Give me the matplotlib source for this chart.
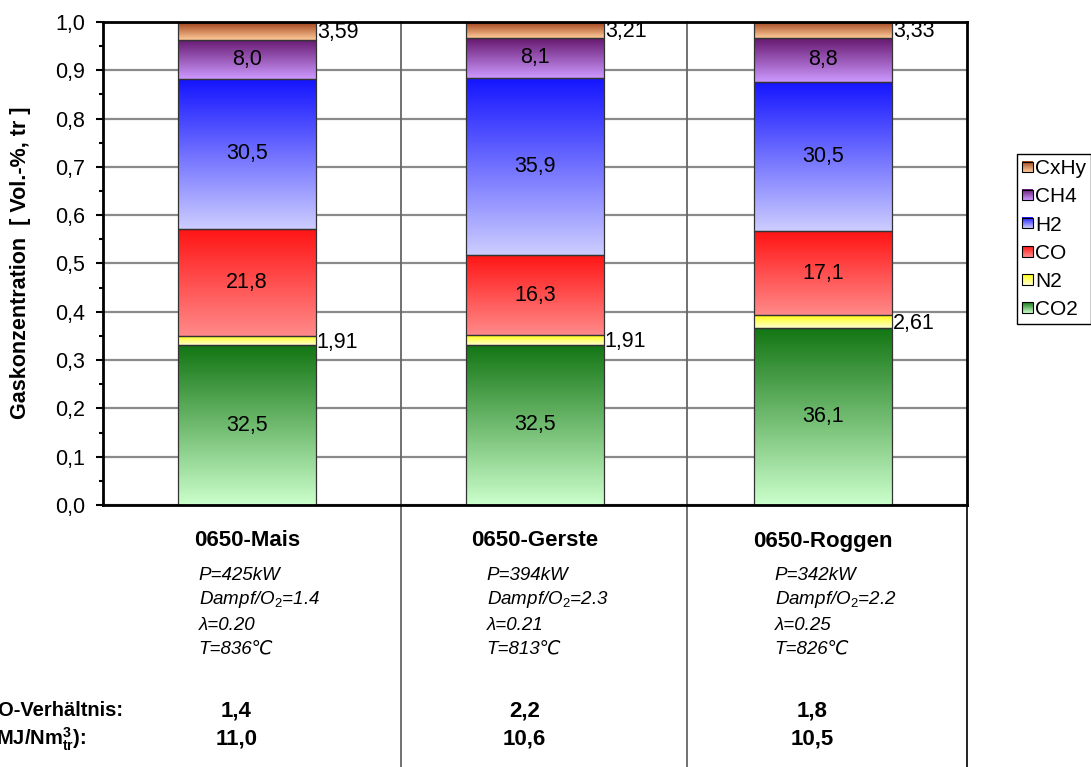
import numpy as np
import matplotlib
matplotlib.use("Agg")
import matplotlib.pyplot as plt
from matplotlib.colors import LinearSegmentedColormap
from matplotlib.legend_handler import HandlerBase
from matplotlib.image import BboxImage
from matplotlib.transforms import Bbox, TransformedBbox, blended_transform_factory
from matplotlib.patches import Rectangle
from matplotlib.ticker import MultipleLocator, FixedLocator, FixedFormatter

plt.rcParams["font.family"] = ["Liberation Sans", "DejaVu Sans"]
plt.rcParams["mathtext.fontset"] = "custom"
plt.rcParams["mathtext.rm"] = "Liberation Sans"
plt.rcParams["mathtext.it"] = "Liberation Sans:italic"
plt.rcParams["mathtext.bf"] = "Liberation Sans:bold"

# ---- data -------------------------------------------------------------
samples = ["0650-Mais", "0650-Gerste", "0650-Roggen"]
gases = ["CO2", "N2", "CO", "H2", "CH4", "CxHy"]
co2 = [32.5, 32.5, 36.1]
n2 = [1.91, 1.91, 2.61]
co = [21.8, 16.3, 17.1]
h2 = [30.5, 35.9, 30.5]
ch4 = [8.0, 8.1, 8.8]
cxhy = [3.59, 3.21, 3.33]

power_kw = ["425", "394", "342"]
steam_o2 = ["1.4", "2.3", "2.2"]
lambda_vals = ["0.20", "0.21", "0.25"]
temp_c = ["836", "813", "826"]
h2_co_ratio = ["1,4", "2,2", "1,8"]
heating_value = ["11,0", "10,6", "10,5"]

y_ticks = [0.0, 0.1, 0.2, 0.3, 0.4, 0.5, 0.6, 0.7, 0.8, 0.9, 1.0]
y_tick_labels = ["0,0", "0,1", "0,2", "0,3", "0,4", "0,5", "0,6", "0,7", "0,8", "0,9", "1,0"]

series = [co2, n2, co, h2, ch4, cxhy]
outside_label = {"N2", "CxHy"}

# vertical gradient per gas: (top colour, bottom colour)
gradients = {
    "CO2": ("#127512", "#ccffcc"),
    "N2": ("#ffff10", "#ffffd0"),
    "CO": ("#ff1414", "#ff8a8a"),
    "H2": ("#1414ff", "#cdcdff"),
    "CH4": ("#66186e", "#cc99ff"),
    "CxHy": ("#a0401a", "#ffcc99"),
}
cmaps = {g: LinearSegmentedColormap.from_list(g, list(c)) for g, c in gradients.items()}
ramp = np.linspace(0, 1, 256).reshape(-1, 1)

VAL_FS = 15.5
W, H = 1091, 767
fig = plt.figure(figsize=(W / 100, H / 100), dpi=100)
ax_left, ax_right, ax_top, ax_bottom = 103, 967, 22, 505
ax = fig.add_axes([ax_left / W, 1 - ax_bottom / H,
                   (ax_right - ax_left) / W, (ax_bottom - ax_top) / H])

x = np.arange(len(samples))
totals = np.sum(np.array(series), axis=0)
bottom = np.zeros(len(samples))
bar_w = 0.48

for gas, vals in zip(gases, series):
    vals = np.array(vals)
    frac = vals / totals
    bars = ax.bar(x, frac, bar_w, bottom=bottom, facecolor="none",
                  edgecolor="#333333", linewidth=0.9, zorder=4)
    for rect, v in zip(bars, vals):
        x0, y0 = rect.get_x(), rect.get_y()
        w, h = rect.get_width(), rect.get_height()
        ax.imshow(ramp, extent=[x0, x0 + w, y0, y0 + h], cmap=cmaps[gas],
                  aspect="auto", interpolation="bilinear", zorder=3)
        if gas in outside_label:
            ax.annotate(f"{v:.2f}".replace(".", ","), (x0 + w, y0 + h / 2),
                        xytext=(0.5, -1.3), textcoords="offset points",
                        ha="left", va="center", fontsize=VAL_FS, zorder=5)
        else:
            ax.text(x0 + w / 2, y0 + h / 2, f"{v:.1f}".replace(".", ","),
                    ha="center", va="center", fontsize=VAL_FS, zorder=5)
    bottom += frac

ax.set_xlim(-0.5, 2.5)
ax.set_ylim(0, 1)
ax.set_xticks([])
ax.yaxis.set_major_locator(FixedLocator(y_ticks))
ax.yaxis.set_major_formatter(FixedFormatter(y_tick_labels))
ax.yaxis.set_minor_locator(MultipleLocator(0.05))
ax.tick_params(axis="y", which="major", length=5, width=1.5, pad=8, labelsize=15.5)
ax.tick_params(axis="y", which="minor", length=3, width=1.5)
ax.yaxis.grid(True, which="major", color="#8a8a8a", linewidth=1.6, zorder=1)
ax.set_axisbelow(True)
for s in ax.spines.values():
    s.set_linewidth(2)
    s.set_color("black")
    s.set_zorder(6)

# column separators running through the plot and the table below it
fig_bottom_axes = -(H - ax_bottom) / (ax_bottom - ax_top) - 0.01
for xv in (0.535, 1.528):
    ax.axvline(xv, ymin=fig_bottom_axes, ymax=1, clip_on=False,
               color="#666666", linewidth=1.3, zorder=2)
ax.axvline(2.5, ymin=fig_bottom_axes, ymax=0, clip_on=False,
           color="black", linewidth=1.2, zorder=2)

ax.set_ylabel("Gaskonzentration  [ Vol.-%, tr ]", fontsize=15.5, fontweight="bold")
ax.yaxis.set_label_coords(31 / W, 1 - 263 / H, transform=fig.transFigure)

# table under the bars
tr = blended_transform_factory(ax.transData, fig.transFigure)


def fy(py):
    return 1 - py / H


for i, name in enumerate(samples):
    ax.text(i, fy(541), name, transform=tr, ha="center", va="center",
            fontsize=16, fontweight="bold")
    lx = i - 0.168
    ax.text(lx, fy(575), f"P={power_kw[i]}kW", transform=tr, ha="left",
            va="center", fontsize=13.5, style="italic")
    ax.text(lx, fy(599), f"Dampf/O$_{{2}}$=" + steam_o2[i], transform=tr,
            ha="left", va="center", fontsize=13.5, style="italic")
    ax.text(lx, fy(625), f"\u03bb=" + lambda_vals[i], transform=tr, ha="left",
            va="center", fontsize=13.5, style="italic")
    ax.text(lx, fy(649), f"T={temp_c[i]}\u2103", transform=tr, ha="left",
            va="center", fontsize=13.5, style="italic")
    ax.text(i - 0.037, fy(711), h2_co_ratio[i], transform=tr, ha="center",
            va="center", fontsize=16, fontweight="bold")
    ax.text(i - 0.037, fy(739), heating_value[i], transform=tr, ha="center",
            va="center", fontsize=16, fontweight="bold")

fig.text(124 / W, fy(711), "H2/CO-Verhältnis:", ha="right", va="center",
         fontsize=14.5, fontweight="bold")
fig.text(86 / W, fy(739), r"Heizwert (MJ/Nm$^{\mathbf{3}}_{\mathbf{tr}}$):",
         ha="right", va="center", fontsize=14.5, fontweight="bold")


# legend with small gradient squares
class GradientKey:
    def __init__(self, cmap):
        self.cmap = cmap


class GradientHandler(HandlerBase):
    def create_artists(self, legend, orig_handle, xdescent, ydescent,
                       width, height, fontsize, trans):
        size = min(width, height)
        x0 = -xdescent + (width - size) / 2
        y0 = -ydescent + (height - size) / 2
        bb = TransformedBbox(Bbox.from_bounds(x0, y0, size, size), trans)
        img = BboxImage(bb, cmap=orig_handle.cmap, interpolation="bilinear")
        img.set_data(ramp)
        rect = Rectangle((x0, y0), size, size, facecolor="none",
                         edgecolor="black", linewidth=0.8, transform=trans)
        return [img, rect]


keys = [GradientKey(cmaps[g]) for g in gases][::-1]
leg = fig.legend(keys, gases[::-1], loc="upper left",
                 bbox_to_anchor=(1017 / W, fy(154)),
                 handler_map={GradientKey: GradientHandler()},
                 fontsize=15, frameon=True, fancybox=False, framealpha=1,
                 edgecolor="black", borderaxespad=0, borderpad=0.25,
                 handlelength=0.5, handleheight=0.5, handletextpad=0.12,
                 labelspacing=0.44)
leg.get_frame().set_linewidth(1)

fig.savefig("out.png", dpi=100)
